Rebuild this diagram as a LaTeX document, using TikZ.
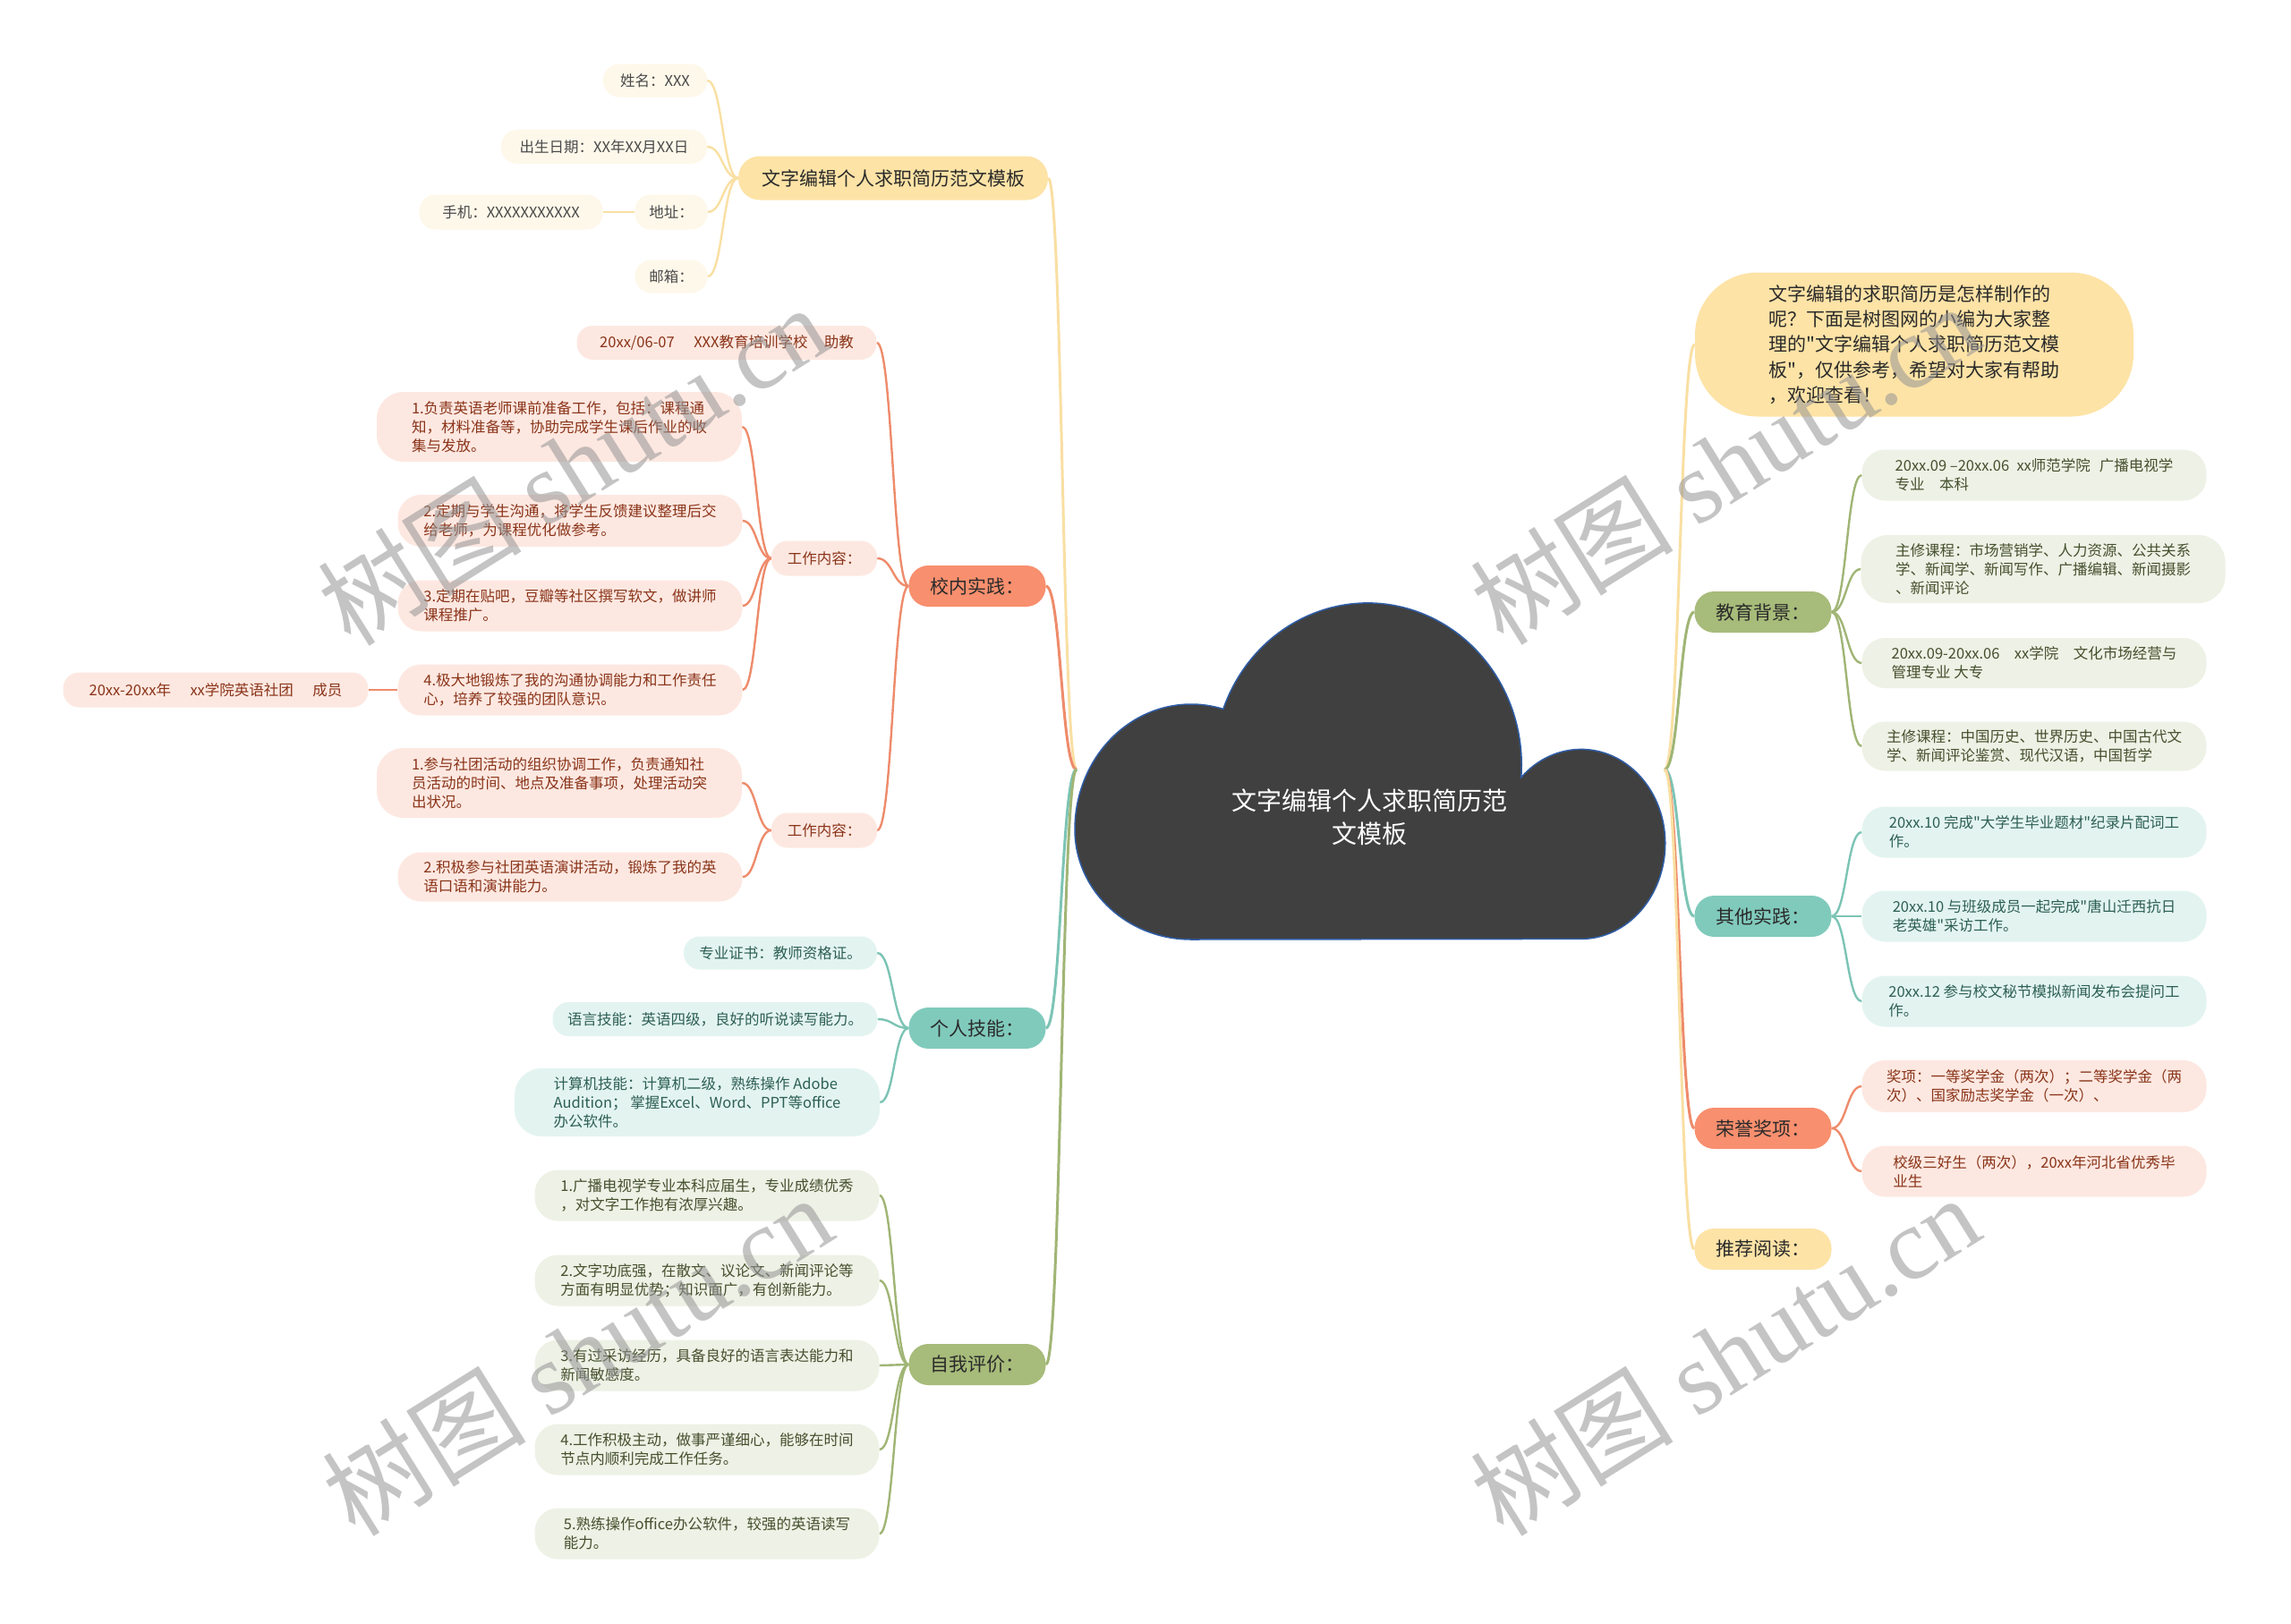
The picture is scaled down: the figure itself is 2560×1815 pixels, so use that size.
\documentclass[tikz,border=0pt]{standalone}
\usepackage{fontspec}
\setmainfont{Noto Sans CJK SC}[Ligatures=TeXOff]
\newfontfamily\wmlatin{Liberation Serif}
\usetikzlibrary{calc}
\pgfdeclarelayer{bg}
\pgfsetlayers{bg,main}
\definecolor{cYA}{HTML}{FDE3A6}
\definecolor{cYB}{HTML}{FEF8EA}
\definecolor{cYL}{HTML}{F9DFA2}
\definecolor{cSA}{HTML}{F88F6E}
\definecolor{cSB}{HTML}{FDE8E1}
\definecolor{cSL}{HTML}{EE8B6B}
\definecolor{cST}{HTML}{8A3419}
\definecolor{cTA}{HTML}{80CABC}
\definecolor{cTB}{HTML}{E3F4F0}
\definecolor{cTL}{HTML}{7CC4B5}
\definecolor{cTT}{HTML}{2D5F54}
\definecolor{cGA}{HTML}{A7BB7A}
\definecolor{cGB}{HTML}{EEF1E5}
\definecolor{cGL}{HTML}{A0B575}
\definecolor{cGT}{HTML}{44502E}
\definecolor{cTxt}{HTML}{2A2A2A}
\definecolor{cCloud}{HTML}{404040}
\definecolor{cCloudLine}{HTML}{2F5DA6}
\tikzset{
  lk/.style={to path={let \p1=(\tikztostart), \p2=(\tikztotarget) in .. controls (\x1/2+\x2/2,\y1) and (\x1/2+\x2/2,\y2) .. (\tikztotarget)}},
  lvA/.style={rounded corners=22pt, minimum height=46pt, minimum width=153pt, inner sep=2pt, align=center, text=cTxt, font=\fontsize{21}{26}\selectfont},
  lvB/.style={rounded corners=18pt, inner xsep=6pt, inner ysep=2pt, align=left, font=\fontsize{16.5}{21}\selectfont},
  twol/.style={rounded corners=26pt},
  threel/.style={rounded corners=30pt},
  yAn/.style={lvA, fill=cYA},
  sAn/.style={lvA, fill=cSA},
  tAn/.style={lvA, fill=cTA},
  gAn/.style={lvA, fill=cGA},
  yBn/.style={lvB, fill=cYB, text=cTxt!85},
  sBn/.style={lvB, fill=cSB, text=cST},
  tBn/.style={lvB, fill=cTB, text=cTT},
  gBn/.style={lvB, fill=cGB, text=cGT},
  eY/.style={draw=cYL, line width=2.4pt},
  eS/.style={draw=cSL, line width=2.4pt},
  eT/.style={draw=cTL, line width=2.4pt},
  eG/.style={draw=cGL, line width=2.4pt},
  wm/.style={rotate=32, text=black!42, text opacity=0.55, font=\fontsize{114}{114}\selectfont},
}
\begin{document}
\begin{tikzpicture}[x=1pt,y=-1pt]
\useasboundingbox (0,0) rectangle (2560,1815);
\begin{pgfonlayer}{bg}
\fill[white] (0,0) rectangle (2560,1815);
\end{pgfonlayer}

% cloud root
\filldraw[fill=cCloud, draw=cCloudLine, line width=1.5pt] (1331,1050)
  arc[start angle=270, end angle=180, x radius=130pt, y radius=123pt]
  arc[start angle=180, end angle=74, x radius=130pt, y radius=140pt]
  arc[start angle=159.8, end angle=-4.4, x radius=172pt, y radius=181pt]
  arc[start angle=135.5, end angle=0, x radius=94pt, y radius=105pt]
  arc[start angle=0, end angle=-90, x radius=94pt, y radius=107pt]
  -- cycle;
\node[text=white, align=center, font=\fontsize{28}{37}\selectfont] (root) at (1530,913) {文字编辑个人求职简历范\\文模板};
\coordinate (rootW) at (1203,860);
\coordinate (rootE) at (1860,860);

% ---------- left: top yellow branch
\node[yAn, minimum width=346pt, minimum height=49pt, rounded corners=24pt] (t1) at (998,199) {文字编辑个人求职简历范文模板};
\node[yBn, minimum width=116pt, minimum height=37pt] (yname) at (732,90) {姓名：XXX};
\node[yBn, minimum width=230pt, minimum height=38pt] (ybirth) at (675,164) {出生日期：XX年XX月XX日};
\node[yBn, minimum width=81pt, minimum height=39pt] (yaddr) at (750,237) {地址：};
\node[yBn, minimum width=205pt, minimum height=39pt] (yphone) at (571,237) {手机：XXXXXXXXXXX};
\node[yBn, minimum width=81pt, minimum height=37pt] (ymail) at (750,309) {邮箱：};

% ---------- left: salmon branch
\node[sAn] (t2) at (1092,655) {校内实践：};
\node[sBn, minimum width=335pt, minimum height=38pt] (sjob) at (812,383) {20xx/06-07\hspace{1.3em}XXX教育培训学校\hspace{1.1em}助教};
\node[sBn, minimum width=118pt, minimum height=39pt] (sw1) at (921,624) {工作内容：};
\node[sBn, threel, minimum width=408pt, minimum height=78pt] (sa1) at (625,477) {1.负责英语老师课前准备工作，包括：课程通\\知，材料准备等，协助完成学生课后作业的收\\集与发放。};
\node[sBn, twol, minimum width=385pt, minimum height=58pt] (sa2) at (637,582) {2.定期与学生沟通，将学生反馈建议整理后交\\给老师，为课程优化做参考。};
\node[sBn, twol, minimum width=385pt, minimum height=57pt] (sa3) at (637,677) {3.定期在贴吧，豆瓣等社区撰写软文，做讲师\\课程推广。};
\node[sBn, twol, minimum width=385pt, minimum height=57pt] (sa4) at (637,771) {4.极大地锻炼了我的沟通协调能力和工作责任\\心，培养了较强的团队意识。};
\node[sBn, minimum width=341pt, minimum height=39pt] (sclub) at (241,771) {20xx-20xx年\hspace{1.3em}xx学院英语社团\hspace{1.3em}成员};
\node[sBn, minimum width=118pt, minimum height=39pt] (sw2) at (921,928) {工作内容：};
\node[sBn, threel, minimum width=408pt, minimum height=78pt] (sb1) at (625,875) {1.参与社团活动的组织协调工作，负责通知社\\员活动的时间、地点及准备事项，处理活动突\\出状况。};
\node[sBn, twol, minimum width=385pt, minimum height=55pt] (sb2) at (637,980) {2.积极参与社团英语演讲活动，锻炼了我的英\\语口语和演讲能力。};

% ---------- left: teal branch
\node[tAn] (t3) at (1092,1149) {个人技能：};
\node[tBn, minimum width=216pt, minimum height=37pt] (k1) at (872,1065) {专业证书：教师资格证。};
\node[tBn, minimum width=363pt, minimum height=38pt] (k2) at (799,1139) {语言技能：英语四级，良好的听说读写能力。};
\node[tBn, threel, minimum width=408pt, minimum height=76pt] (k3) at (779,1232) {计算机技能：计算机二级，熟练操作 Adobe\\Audition； 掌握Excel、Word、PPT等office\\办公软件。};

% ---------- left: green branch
\node[gAn] (t4) at (1092,1525) {自我评价：};
\node[gBn, twol, minimum width=385pt, minimum height=57pt] (e1) at (790,1336) {1.广播电视学专业本科应届生，专业成绩优秀\\，对文字工作抱有浓厚兴趣。};
\node[gBn, twol, minimum width=385pt, minimum height=57pt] (e2) at (790,1431) {2.文字功底强，在散文、议论文、新闻评论等\\方面有明显优势；知识面广，有创新能力。};
\node[gBn, twol, minimum width=385pt, minimum height=57pt] (e3) at (790,1526) {3.有过采访经历，具备良好的语言表达能力和\\新闻敏感度。};
\node[gBn, twol, minimum width=385pt, minimum height=57pt] (e4) at (790,1620) {4.工作积极主动，做事严谨细心，能够在时间\\节点内顺利完成工作任务。};
\node[gBn, twol, minimum width=385pt, minimum height=57pt] (e5) at (790,1714) {5.熟练操作office办公软件，较强的英语读写\\能力。};

% ---------- right side
\node[fill=cYA, rounded corners=70pt, minimum width=490pt, minimum height=161pt, align=left, text=cTxt, font=\fontsize{21}{28.3}\selectfont] (intro) at (2139,385) {文字编辑的求职简历是怎样制作的\\呢？下面是树图网的小编为大家整\\理的"文字编辑个人求职简历范文模\\板"，仅供参考，希望对大家有帮助\\，欢迎查看！};

\node[gAn] (r1) at (1970,684) {教育背景：};
\node[gBn, twol, minimum width=385pt, minimum height=57pt] (ed1) at (2273,531) {20xx.09 –20xx.06\hspace{0.5em}xx师范学院\hspace{0.6em}广播电视学\\专业\hspace{1em}本科};
\node[gBn, threel, minimum width=407pt, minimum height=76pt] (ed2) at (2283,636) {主修课程：市场营销学、人力资源、公共关系\\学、新闻学、新闻写作、广播编辑、新闻摄影\\、新闻评论};
\node[gBn, twol, minimum width=385pt, minimum height=56pt] (ed3) at (2273,741) {20xx.09-20xx.06\hspace{1em}xx学院\hspace{1em}文化市场经营与\\管理专业 大专};
\node[gBn, twol, minimum width=385pt, minimum height=55pt] (ed4) at (2273,834) {主修课程：中国历史、世界历史、中国古代文\\学、新闻评论鉴赏、现代汉语，中国哲学};

\node[tAn] (r2) at (1970,1024) {其他实践：};
\node[tBn, twol, minimum width=385pt, minimum height=57pt] (o1) at (2273,930) {20xx.10 完成"大学生毕业题材"纪录片配词工\\作。};
\node[tBn, twol, minimum width=385pt, minimum height=57pt] (o2) at (2273,1024) {20xx.10 与班级成员一起完成"唐山迁西抗日\\老英雄"采访工作。};
\node[tBn, twol, minimum width=385pt, minimum height=57pt] (o3) at (2273,1119) {20xx.12 参与校文秘节模拟新闻发布会提问工\\作。};

\node[sAn] (r3) at (1970,1261) {荣誉奖项：};
\node[sBn, twol, minimum width=385pt, minimum height=58pt] (h1) at (2273,1214) {奖项：一等奖学金（两次）；二等奖学金（两\\次）、国家励志奖学金（一次）、};
\node[sBn, twol, minimum width=385pt, minimum height=57pt] (h2) at (2273,1309) {校级三好生（两次），20xx年河北省优秀毕\\业生};

\node[yAn] (r4) at (1970,1396) {推荐阅读：};

% ---------- connectors
\begin{pgfonlayer}{bg}
\draw[eY, line width=3pt] (rootW) to[lk] (t1.east);
\draw[eS, line width=3pt] (rootW) to[lk] (t2.east);
\draw[eT, line width=3pt] (rootW) to[lk] (t3.east);
\draw[eG, line width=3pt] (rootW) to[lk] (t4.east);
\draw[eY, line width=3pt] (rootE) to[lk] (intro.west);
\draw[eG, line width=3pt] (rootE) to[lk] (r1.west);
\draw[eT, line width=3pt] (rootE) to[lk] (r2.west);
\draw[eS, line width=3pt] (rootE) to[lk] (r3.west);
\draw[eY, line width=3pt] (rootE) to[lk] (r4.west);

\draw[eY] (t1.west) to[lk] (yname.east);
\draw[eY] (t1.west) to[lk] (ybirth.east);
\draw[eY] (t1.west) to[lk] (yaddr.east);
\draw[eY] (t1.west) to[lk] (ymail.east);
\draw[eY] (yaddr.west) -- (yphone.east);

\draw[eS] (t2.west) to[lk] (sjob.east);
\draw[eS] (t2.west) to[lk] (sw1.east);
\draw[eS] (t2.west) to[lk] (sw2.east);
\draw[eS] (sw1.west) to[lk] (sa1.east);
\draw[eS] (sw1.west) to[lk] (sa2.east);
\draw[eS] (sw1.west) to[lk] (sa3.east);
\draw[eS] (sw1.west) to[lk] (sa4.east);
\draw[eS] (sa4.west) -- (sclub.east);
\draw[eS] (sw2.west) to[lk] (sb1.east);
\draw[eS] (sw2.west) to[lk] (sb2.east);

\draw[eT] (t3.west) to[lk] (k1.east);
\draw[eT] (t3.west) to[lk] (k2.east);
\draw[eT] (t3.west) to[lk] (k3.east);

\draw[eG] (t4.west) to[lk] (e1.east);
\draw[eG] (t4.west) to[lk] (e2.east);
\draw[eG] (t4.west) to[lk] (e3.east);
\draw[eG] (t4.west) to[lk] (e4.east);
\draw[eG] (t4.west) to[lk] (e5.east);

\draw[eG] (r1.east) to[lk] (ed1.west);
\draw[eG] (r1.east) to[lk] (ed2.west);
\draw[eG] (r1.east) to[lk] (ed3.west);
\draw[eG] (r1.east) to[lk] (ed4.west);
\draw[eT] (r2.east) to[lk] (o1.west);
\draw[eT] (r2.east) to[lk] (o2.west);
\draw[eT] (r2.east) to[lk] (o3.west);
\draw[eS] (r3.east) to[lk] (h1.west);
\draw[eS] (r3.east) to[lk] (h2.west);
\end{pgfonlayer}

% ---------- watermarks
\node[wm] (wm1) at (640,519) {树图 {\wmlatin shutu.cn}};
\node[wm] (wm2) at (1927,518) {树图 {\wmlatin shutu.cn}};
\node[wm] (wm3) at (645,1514) {树图 {\wmlatin shutu.cn}};
\node[wm] (wm4) at (1927,1514) {树图 {\wmlatin shutu.cn}};
\end{tikzpicture}
\end{document}
